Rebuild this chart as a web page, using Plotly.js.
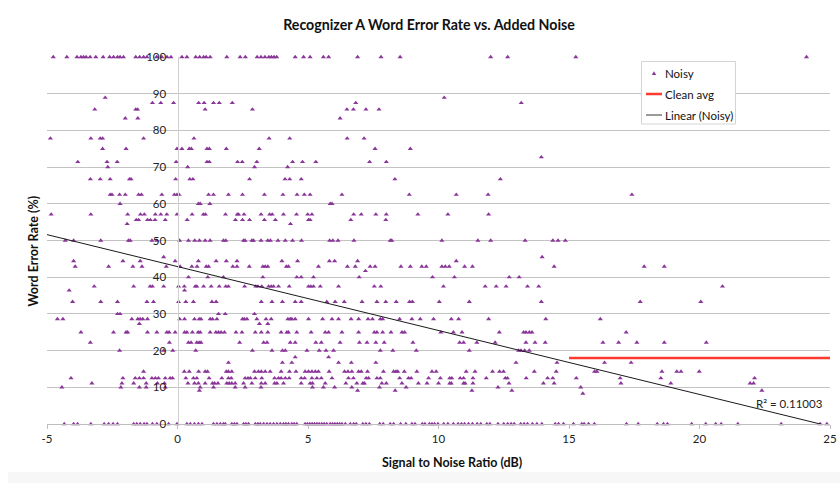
<!DOCTYPE html>
<html>
<head>
<meta charset="utf-8">
<script src="https://cdn.plot.ly/plotly-3.0.1.min.js"></script>
<style>html,body{margin:0;padding:0;background:#fff;}#chart{width:840px;height:483px;}</style>
</head>
<body>
<div id="chart"></div>
<script>
// ---- Data ----
const chartTitle = "Recognizer A Word Error Rate vs. Added Noise";
const xTitle = "Signal to Noise Ratio (dB)";
const yTitle = "Word Error Rate (%)";
const xTickVals = [-5, 0, 5, 10, 15, 20, 25];
const yTickVals = [0, 10, 20, 30, 40, 50, 60, 70, 80, 90, 100];

// Word error rate levels (%) observed in the scatter
const werLevels = [100, 88.9, 87.5, 85.7, 83.3, 77.8, 75, 72.7, 71.4, 70, 66.7, 62.5, 60, 57.1, 55.6, 54.5,
  50, 45.5, 44.4, 42.9, 41.7, 40, 37.5, 36.4, 33.3, 30, 28.6, 27.3, 25, 22.2, 20, 18.2, 16.7, 14.3, 12.5,
  11.1, 10, 9.1, 8.3, 0];

// SNR (dB) of the "Noisy" points at each WER level (same order as werLevels)
const snrByLevel = [
  [-4.76,-4.24,-3.85,-3.7,-3.6,-3.5,-3.35,-3.13,-2.85,-2.6,-2.45,-2.3,-2.2,-2.07,-1.6,-1.45,-1.3,-1.17,-0.8,-0.6,-0.4,-0.25,0.17,0.36,0.7,0.85,1.0,1.1,1.25,1.89,2.4,2.6,3.05,3.2,3.35,3.5,3.6,3.7,3.8,4.51,4.83,5.08,5.59,5.79,6.9,7.8,8.53,12.0,12.65,15.26,24.1],
  [-2.77,10.22],
  [-0.96,-0.64,-0.15,0.81,1.02,1.38,1.6,2.1,6.83,13.17],
  [-3.17,-1.6,-1.53,1.06,2.87,6.49,6.74,7.22,7.72],
  [-2.0,-1.52,6.23],
  [-4.87,-3.32,-2.96,-2.87,-1.3,0.63,3.51,4.3,6.5,7.15],
  [-2.87,-1.97,-0.02,0.17,0.45,0.53,1.13,1.22,1.87,3.13,7.57,8.92],
  [13.94],
  [-3.82,-2.7,-2.31,-0.05,1.13,1.22,2.3,2.48,3.04,4.41,4.79,5.3,7.36,8.0],
  [-2.67,0.39,2.95,4.22],
  [-3.34,-2.96,-2.58,-1.84,-1.78,-0.07,0.47,0.59,2.76,4.12,4.3,4.74,8.33,12.37],
  [-2.58,-2.51,-2.22,-2.0,-1.49,-1.38,-0.6,-0.12,-0.02,0.06,1.19,1.38,1.95,2.49,3.33,4.04,4.58,4.86,5.08,6.3,8.88,10.68,11.9,17.41],
  [-2.2,0.8,0.87,1.24,5.85,5.92],
  [-4.84,-3.32,-1.91,-1.42,-1.27,-0.85,-0.64,-0.41,-0.02,0.56,0.99,1.07,1.84,2.29,2.34,2.55,3.2,3.53,3.63,4.06,4.56,4.99,5.15,6.75,7.04,7.6,8.0,9.21,10.36,11.92],
  [-1.58,-1.49,-1.15,-1.04,-0.86,-0.47,0.37,2.22,2.49,2.76,3.33,3.75,5.02,5.08,6.64,7.98],
  [-1.93,4.33],
  [-4.3,-3.98,-2.94,-1.88,-1.81,-0.98,-0.79,0.08,0.42,0.66,0.84,1.06,1.25,1.76,1.85,2.53,2.59,2.85,2.91,3.2,3.46,3.56,3.85,4.13,4.41,4.75,5.83,5.95,6.15,6.76,8.15,8.21,10.13,11.51,12.0,13.32,14.38,14.58,14.86],
  [-0.53,13.97],
  [-3.98,-2.09,-1.43,-0.09,0.8,1.48,1.87,2.28,4.0,4.6,5.82,6.02,6.9,10.68],
  [-3.92,-2.64,-1.71,-1.36,-0.43,0.1,0.55,0.75,1.1,1.19,2.12,2.28,2.75,3.27,3.36,3.46,4.17,4.25,5.4,6.51,6.81,7.38,7.57,8.56,8.92,9.36,9.53,10.13,10.26,10.41,11.0,11.3,14.43,17.88,18.65],
  [7.2],
  [0.42,1.16,1.76,3.27,4.57,4.74,5.21,6.96,9.77,10.61,12.71,13.09],
  [-3.19,-1.68,-1.05,-0.96,-0.53,0.04,0.26,0.68,0.74,1.0,1.29,1.6,1.85,1.95,2.57,3.0,3.08,3.23,3.49,3.59,3.68,3.87,4.28,5.02,5.11,5.21,5.47,6.17,7.54,7.79,10.19,11.79,12.21,12.59,13.41,13.84,20.88],
  [-4.15,0.27],
  [-4.02,-2.94,-2.3,-1.17,-0.92,0.04,0.32,0.61,1.32,1.48,3.21,3.62,4.02,4.51,4.74,5.72,6.04,6.39,7.07,7.64,7.98,8.38,8.89,9.0,10.03,11.18,13.94,17.73,20.05],
  [-2.3,-2.2,1.57,1.83,2.95],
  [-4.6,-4.39,-1.75,-1.52,-1.43,-1.33,-1.15,0.08,0.27,0.65,0.83,0.9,1.25,1.34,1.51,2.49,2.56,2.66,3.04,3.39,3.59,4.23,4.32,4.38,4.51,5.02,5.56,5.92,6.17,6.65,6.94,7.3,7.47,7.77,7.86,8.51,8.98,9.3,9.81,10.49,10.77,11.92,14.11,16.2],
  [-1.46,3.14,3.46],
  [-3.7,-2.45,-1.97,-1.91,-1.15,-0.79,-0.41,-0.32,-0.09,0.27,0.36,0.57,0.79,0.87,1.25,1.47,1.57,1.67,1.8,2.24,2.47,2.98,3.21,3.46,3.97,4.19,4.25,4.57,5.12,5.66,5.79,6.3,6.94,7.54,7.64,7.86,8.18,8.6,8.7,10.09,10.57,10.9,12.33,13.26,13.35,13.48,13.58,17.19],
  [-3.34,-0.31,0.42,0.52,0.74,0.83,0.9,2.38,3.3,3.43,4.32,4.51,5.3,5.51,6.23,6.97,7.26,7.6,7.92,9.02,10.81,10.96,11.47,12.17,13.35,13.7,14.09,16.3,16.9,17.6,18.65,20.26],
  [-2.22,-0.53,-0.18,0.7,2.87,3.62,4.02,4.13,4.96,5.43,5.69,5.98,7.77,8.25,9.15,11.18,13.07,13.16,13.3,13.48],
  [4.51,5.79],
  [1.95,4.02,4.38,6.17,6.66,7.6,12.97,14.54,16.36,17.38],
  [-1.3,0.26,0.45,0.81,1.06,1.15,1.87,1.95,2.08,2.95,3.1,3.21,3.36,3.55,3.97,4.29,4.54,4.89,5.02,5.15,5.28,5.4,5.81,6.4,6.53,6.68,6.94,7.04,7.28,7.89,8.28,8.37,8.44,8.69,9.17,9.75,9.91,11.06,11.4,12.07,12.34,12.49,13.67,14.51,15.98,16.07,18.56,19.13,19.29,19.99],
  [-4.08,-2.09,-1.62,-1.46,-1.3,-0.98,-0.85,-0.73,-0.47,-0.28,-0.19,0.32,0.61,0.74,1.21,1.7,1.95,2.06,2.59,2.7,2.79,2.98,3.23,3.72,3.87,3.97,4.13,4.28,4.74,4.87,5.15,5.34,5.51,5.92,6.55,6.74,7.23,7.32,7.64,7.77,8.51,8.85,8.95,9.62,10.07,10.43,10.51,10.83,10.96,11.32,11.83,12.56,12.64,13.36,14.18,14.38,15.28,16.96,18.52,22.11],
  [-3.28,-2.13,-1.68,-1.2,-0.77,-0.5,0.4,0.65,0.8,1.06,1.34,1.42,1.55,1.89,1.98,2.08,2.21,2.53,2.85,3.21,3.36,3.72,3.81,4.06,4.74,5.08,5.17,5.66,6.45,6.87,7.1,7.16,7.83,8.0,8.6,9.23,9.56,10.0,10.43,10.49,10.96,11.02,11.32,12.7,14.02,14.43,16.99,18.9,21.94,22.07],
  [-4.43,-2.17,-1.46,-1.2,-0.47,0.87,1.38,2.21,2.59,3.2,5.17,5.59,6.02,6.68,7.74,8.76,12.28,15.45],
  [0.84,6.9,8.34,11.28,12.81,22.39],
  [15.53],
  [-4.34,-3.98,-3.83,-3.32,-2.81,-2.64,-2.47,-2.3,-1.68,-1.56,-1.43,-1.28,-1.17,-0.96,-0.79,-0.34,-0.02,0.36,0.49,0.65,0.8,0.94,
   1.38,1.51,1.64,1.76,1.83,2.08,2.18,2.28,2.53,2.62,2.72,2.98,3.08,3.17,3.3,3.43,3.55,3.68,3.81,3.94,4.06,4.15,4.25,4.38,4.47,4.57,
   4.89,4.98,5.07,5.16,5.25,5.34,5.43,5.53,5.62,5.72,5.85,5.94,6.03,6.12,6.21,6.3,6.43,6.62,6.75,6.85,7.1,7.22,7.35,7.75,7.88,
   8.15,8.28,8.55,8.75,8.98,9.1,9.38,9.48,9.65,9.75,9.85,9.98,10.2,10.36,10.57,10.75,10.88,11.0,11.15,11.3,11.48,11.62,11.85,11.97,
   12.28,12.5,12.65,12.78,12.9,13.15,13.28,13.41,13.6,13.77,13.96,14.47,14.6,14.79,15.17,15.49,15.58,15.75,15.97,17.2,17.65,18.38,
   18.62,18.77,19.7,20.24,20.62,20.83,21.47,23.13,24.62,24.88]
];

// Clean average (horizontal reference line)
const cleanX = [15, 25];
const cleanY = [18, 18];

// Linear trend line of the noisy data
const trendX = [-5, 25];
const trendY = [51.6, -0.65];
const r2Label = "R² = 0.11003";
const r2Pos = [23.44, 5.7];

const legendLabels = ["Noisy", "Clean avg", "Linear (Noisy)"];

// ---- Build the scatter series from the level table ----
const noisyX = [], noisyY = [];
werLevels.forEach((lvl, i) => {
  snrByLevel[i].forEach(s => { noisyX.push(s); noisyY.push(lvl); });
});

const purple = '#8a3598';
const red = '#ff3b2f';
const FONT = 'Lato, "Open Sans", sans-serif';

const traces = [
  { type: 'scatter', mode: 'markers', x: noisyX, y: noisyY, name: legendLabels[0],
    marker: { symbol: 'triangle-up', size: 4.5, color: purple, line: { width: 0 } }, cliponaxis: false },
  { type: 'scatter', mode: 'lines', x: cleanX, y: cleanY, name: legendLabels[1],
    line: { color: red, width: 2.5 } },
  { type: 'scatter', mode: 'lines', x: trendX, y: trendY, name: legendLabels[2],
    line: { color: '#1a1a1a', width: 1 } }
];

// pixel helpers for decorations (legend box etc.)
const L = 47, T = 57, W = 783, H = 367;
const px = v => (v - L) / W;
const py = v => (T + H - v) / H;

const shapes = [
  // faint bottom band of the original screenshot
  { type: 'rect', xref: 'paper', yref: 'paper', x0: px(8), x1: px(842), y0: py(472), y1: py(485),
    fillcolor: '#f7f7f7', line: { width: 0 }, layer: 'below' },
  // legend box
  { type: 'rect', xref: 'paper', yref: 'paper', x0: px(641.5), x1: px(735.5), y0: py(124), y1: py(61.5),
    fillcolor: '#ffffff', line: { color: '#d4d4d4', width: 1 } },
  // legend symbols
  { type: 'path', xref: 'paper', yref: 'paper',
    path: `M ${px(651.8)} ${py(75)} L ${px(656.2)} ${py(75)} L ${px(654)} ${py(71.2)} Z`,
    fillcolor: purple, line: { width: 0 } },
  { type: 'line', xref: 'paper', yref: 'paper', x0: px(646), x1: px(662), y0: py(94), y1: py(94),
    line: { color: red, width: 2.5 } },
  { type: 'line', xref: 'paper', yref: 'paper', x0: px(646), x1: px(662), y0: py(115), y1: py(115),
    line: { color: '#7a7a7a', width: 1.5 } }
];

const legFont = { family: FONT, size: 11.5, color: '#111' };
const annotations = [
  { xref: 'paper', yref: 'paper', x: px(663), y: py(73.5), text: legendLabels[0], showarrow: false, xanchor: 'left', yanchor: 'middle', font: legFont },
  { xref: 'paper', yref: 'paper', x: px(663), y: py(94), text: legendLabels[1], showarrow: false, xanchor: 'left', yanchor: 'middle', font: legFont },
  { xref: 'paper', yref: 'paper', x: px(663), y: py(115), text: legendLabels[2], showarrow: false, xanchor: 'left', yanchor: 'middle', font: legFont },
  // axis titles
  { xref: 'paper', yref: 'paper', x: px(452), y: py(463), text: '<b>' + xTitle + '</b>', showarrow: false,
    xanchor: 'center', yanchor: 'middle', font: { family: FONT, size: 12.5, color: '#111' } },
  { xref: 'paper', yref: 'paper', x: px(32.5), y: py(251), text: '<b>' + yTitle + '</b>', showarrow: false, textangle: -90,
    xanchor: 'center', yanchor: 'middle', font: { family: FONT, size: 12.5, color: '#111' } },
  // R squared label
  { xref: 'x', yref: 'y', x: r2Pos[0], y: r2Pos[1], text: r2Label, showarrow: false,
    xanchor: 'center', yanchor: 'middle', font: { family: FONT, size: 11.5, color: '#222' } }
];

const layout = {
  width: 840, height: 483,
  margin: { l: L, r: 840 - L - W, t: T, b: 483 - T - H, pad: 0 },
  paper_bgcolor: '#ffffff', plot_bgcolor: '#ffffff',
  showlegend: false,
  font: { family: FONT, size: 12, color: '#222' },
  title: { text: '<b>' + chartTitle + '</b>', x: 429 / 840, xref: 'container', xanchor: 'center',
    y: 1 - 25 / 483, yref: 'container', yanchor: 'middle', font: { family: FONT, size: 14.2, color: '#111' } },
  xaxis: {
    range: [-5, 25], tickmode: 'array', tickvals: xTickVals, ticktext: xTickVals.map(String),
    showgrid: false, zeroline: false, showline: true, linecolor: '#bdbdbd', linewidth: 1.2,
    ticks: 'outside', ticklen: 4, tickcolor: '#bdbdbd', tickwidth: 1,
    tickfont: { family: FONT, size: 11.5, color: '#222' }, automargin: false, fixedrange: true
  },
  yaxis: {
    range: [0, 100], tickmode: 'array', tickvals: yTickVals, ticktext: yTickVals.map(String),
    anchor: 'free', position: 5 / 30, side: 'left',
    showgrid: true, gridcolor: '#c3c3c3', gridwidth: 1, zeroline: false,
    showline: true, linecolor: '#cfcfcf', linewidth: 1.5, ticks: '', ticklabelstandoff: 9,
    tickfont: { family: FONT, size: 11.5, color: '#222' }, automargin: false, fixedrange: true
  },
  shapes: shapes,
  annotations: annotations
};

Plotly.newPlot('chart', traces, layout, { displayModeBar: false, staticPlot: true });
</script>
</body>
</html>
